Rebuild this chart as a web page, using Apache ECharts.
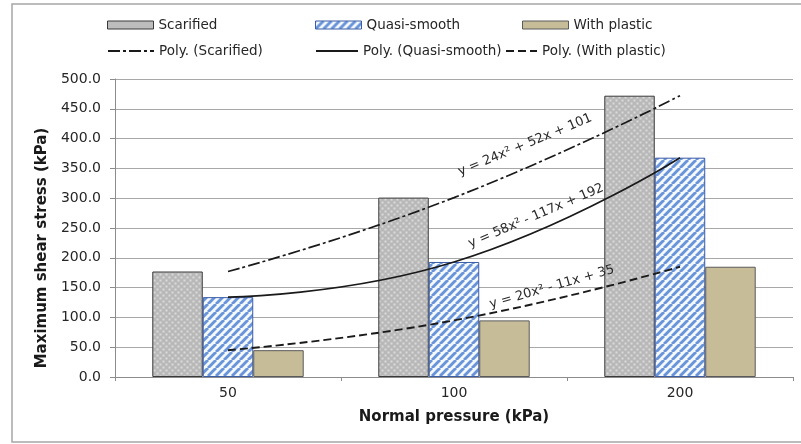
<!DOCTYPE html>
<html><head><meta charset="utf-8">
<script src="https://cdn.jsdelivr.net/npm/echarts@6/dist/echarts.min.js"></script>
<style>html,body{margin:0;padding:0;background:#fff}#c{width:801px;height:444px}</style>
</head><body><div id="c"></div>
<script>
// ---- data ----
const categories = ['50', '100', '200'];
const scarified = [177, 301, 472];
const quasiSmooth = [134, 193, 368];
const withPlastic = [45, 95, 185];
const barNames = ['Scarified', 'Quasi-smooth', 'With plastic'];
const trendNames = ['Poly. (Scarified)', 'Poly. (Quasi-smooth)', 'Poly. (With plastic)'];
const equations = ['y = 24x² + 52x + 101', 'y = 58x² - 117x + 192', 'y = 20x² - 11x + 35'];
const yMin = 0, yMax = 500, yStep = 50;

// ---- styles ----
function dotPattern() {
  const c = document.createElement('canvas'); c.width = 6; c.height = 6;
  const g = c.getContext('2d');
  g.fillStyle = '#b8b8b8'; g.fillRect(0, 0, 6, 6);
  g.fillStyle = '#dadada';
  g.fillRect(0.5, 0.5, 2, 2); g.fillRect(3.5, 3.5, 2, 2);
  return c;
}
function stripePattern() {
  const P = 8;
  const c = document.createElement('canvas'); c.width = P; c.height = P;
  const g = c.getContext('2d');
  g.fillStyle = '#f4f8ff'; g.fillRect(0, 0, P, P);
  g.strokeStyle = '#6a94da'; g.lineWidth = 2.9;
  [-1, 0, 1].forEach(k => { g.beginPath(); g.moveTo(k * P, P); g.lineTo(k * P + P, 0); g.stroke(); });
  return c;
}
const FONT = '"DejaVu Sans", sans-serif';
const barStyles = [
  { color: { image: dotPattern(), repeat: 'repeat' }, borderColor: '#3a3a3a', borderWidth: 1 },
  { color: { image: stripePattern(), repeat: 'repeat' }, borderColor: '#3b5ca6', borderWidth: 1 },
  { color: '#c6bd98', borderColor: '#5a5a5a', borderWidth: 1 }
];
const legendBarStyles = [
  { color: '#bdbdbd', borderColor: '#3a3a3a', borderWidth: 1 },
  { color: { image: stripePattern(), repeat: 'repeat' }, borderColor: '#3b5ca6', borderWidth: 1 },
  { color: '#c6bd98', borderColor: '#5a5a5a', borderWidth: 1 }
];
const trendStyles = [
  { type: [12, 3, 3, 3], width: 1.7, color: '#1a1a1a' },
  { type: 'solid', width: 1.7, color: '#1a1a1a' },
  { type: [8, 4], width: 1.9, color: '#1a1a1a' }
];
const eqLayout = [
  { x: 525, y: 145, rot: 22.5 },
  { x: 536, y: 216, rot: 23 },
  { x: 552, y: 287, rot: 16 }
];
const legendLayout = [
  { left: 107, top: 18, w: 46 }, { left: 315, top: 18, w: 46 }, { left: 522, top: 18, w: 46 },
  { left: 107, top: 44, w: 46 }, { left: 315, top: 44, w: 42 }, { left: 505, top: 44, w: 31 }
];

const values = [scarified, quasiSmooth, withPlastic];
const legendNames = barNames.concat(trendNames);

const chart = echarts.init(document.getElementById('c'), null, { renderer: 'canvas' });
chart.setOption({
  animation: false,
  backgroundColor: '#fff',
  textStyle: { fontFamily: FONT },
  grid: { left: 115, right: 8, top: 79, bottom: 67, containLabel: false, outerBoundsMode: 'none' },
  legend: legendNames.map((n, i) => ({
    data: [i < 3 ? { name: n, icon: 'rect', itemStyle: legendBarStyles[i] } : { name: n }],
    left: legendLayout[i].left, top: legendLayout[i].top, padding: 0,
    itemWidth: legendLayout[i].w, itemHeight: 8, selectedMode: false,
    textStyle: { fontFamily: FONT, fontSize: 13.5, color: '#262626' },
    itemStyle: i < 3 ? undefined : { opacity: 0, borderWidth: 0 },
    lineStyle: i < 3 ? undefined : { opacity: 1 }
  })),
  xAxis: {
    type: 'category', data: categories,
    axisLine: { lineStyle: { color: '#8c8c8c', width: 1 } },
    axisTick: { show: true, length: 4, lineStyle: { color: '#8c8c8c' } },
    axisLabel: { fontFamily: FONT, fontSize: 14, color: '#262626', margin: 9 },
    name: 'Normal pressure (kPa)', nameLocation: 'middle', nameGap: 33,
    nameTextStyle: { fontFamily: FONT, fontSize: 15, fontWeight: 'bold', color: '#1a1a1a' },
    splitLine: { show: false }
  },
  yAxis: {
    type: 'value', min: yMin, max: yMax, interval: yStep,
    axisLine: { show: true, lineStyle: { color: '#8c8c8c', width: 1 } },
    axisTick: { show: true, length: 5, lineStyle: { color: '#8c8c8c' } },
    axisLabel: { fontFamily: FONT, fontSize: 14, color: '#262626', margin: 14, formatter: v => v.toFixed(1) },
    splitLine: { show: true, lineStyle: { color: '#a8a8a8', width: 1 } },
    name: 'Maximum shear stress (kPa)', nameLocation: 'middle', nameGap: 62, nameRotate: 90,
    nameTextStyle: { fontFamily: FONT, fontSize: 15, fontWeight: 'bold', color: '#1a1a1a', padding: [0, 40, 0, 0] }
  },
  series: [
    ...barNames.map((n, i) => ({
      type: 'bar', name: n, data: values[i], barGap: '0%', barCategoryGap: '33%',
      itemStyle: barStyles[i], emphasis: { disabled: true }, z: 2
    })),
    ...trendNames.map((n, i) => ({
      type: 'line', name: n, data: values[i], smooth: 0.5, symbol: 'none', showSymbol: false,
      lineStyle: trendStyles[i], itemStyle: { color: '#1a1a1a' }, z: 5, emphasis: { disabled: true }
    }))
  ],
  graphic: [
    { type: 'rect', shape: { x: 12, y: 4, width: 800, height: 438 }, style: { fill: 'none', stroke: '#a6a6a6', lineWidth: 1.5 }, z: -10, silent: true },
    ...equations.map((t, i) => ({
      type: 'text', x: eqLayout[i].x, y: eqLayout[i].y, rotation: eqLayout[i].rot * Math.PI / 180, z: 100, silent: true,
      style: { text: t, fontFamily: FONT, fontSize: 13, fill: '#2a2a2a', align: 'center', verticalAlign: 'middle' }
    }))
  ]
});
</script>
</body></html>
